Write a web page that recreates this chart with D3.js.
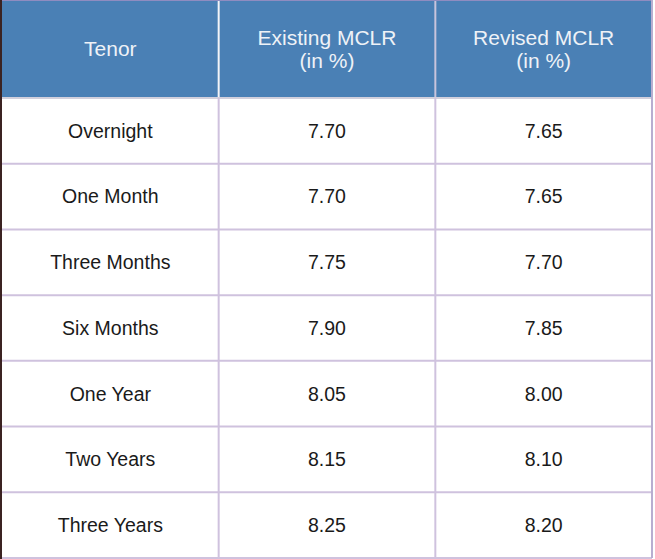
<!DOCTYPE html>
<html>
<head>
<meta charset="utf-8">
<script src="https://cdn.jsdelivr.net/npm/d3@7/dist/d3.min.js"></script>
<style>
  html, body { margin: 0; padding: 0; background: #fff; }
  svg { display: block; }
</style>
</head>
<body>
<svg id="chart" width="655" height="559"></svg>
<script>
const columns = ["tenor", "existing", "revised"];
const headers = [["Tenor"], ["Existing MCLR", "(in %)"], ["Revised MCLR", "(in %)"]];
const tenors = ["Overnight", "One Month", "Three Months", "Six Months", "One Year", "Two Years", "Three Years"];
const existing = [7.70, 7.70, 7.75, 7.90, 8.05, 8.15, 8.25];
const revised = [7.65, 7.65, 7.70, 7.85, 8.00, 8.10, 8.20];

const svg = d3.select("#chart");
const headTop = 0, headBottom = 98, tableBottom = 558;
const left = 2, right = 652;
const font = "'Liberation Sans', Arial, sans-serif";

const x = d3.scaleBand().domain(columns).range([left, right]);
const y = d3.scaleBand().domain(tenors).range([headBottom, tableBottom]);

const rows = tenors.map((t, i) => ({
  tenor: t,
  existing: existing[i].toFixed(2),
  revised: revised[i].toFixed(2)
}));

// left dark strip
svg.append("rect").attr("x", 0).attr("y", 0).attr("width", 2).attr("height", 559).attr("fill", "#3b2322");

// header
svg.append("rect")
  .attr("x", left).attr("y", headTop)
  .attr("width", right - left).attr("height", headBottom - headTop)
  .attr("fill", "#4a80b5");

svg.append("line")
  .attr("x1", left).attr("x2", right).attr("y1", 0.5).attr("y2", 0.5)
  .attr("stroke", "#8f8cc0").attr("stroke-width", 1);

const head = svg.append("g").selectAll("text")
  .data(columns)
  .join("text")
  .attr("x", d => x(d) + x.bandwidth() / 2)
  .attr("text-anchor", "middle")
  .attr("font-family", font)
  .attr("font-size", 21)
  .attr("fill", "#eef2f7");

head.each(function(d, i) {
  const lines = headers[i];
  const t = d3.select(this);
  const mid = (headTop + headBottom) / 2;
  lines.forEach((s, j) => {
    t.append("tspan")
      .attr("x", x(d) + x.bandwidth() / 2)
      .attr("y", mid + (j - (lines.length - 1) / 2) * 23)
      .attr("dy", "0.35em")
      .text(s);
  });
});

// header separators
svg.append("line")
  .attr("x1", x("existing")).attr("x2", x("existing"))
  .attr("y1", 1).attr("y2", headBottom)
  .attr("stroke", "#f4f4f8").attr("stroke-width", 2);
svg.append("line")
  .attr("x1", x("revised")).attr("x2", x("revised"))
  .attr("y1", 1).attr("y2", headBottom)
  .attr("stroke", "#c8c4dc").attr("stroke-width", 2);
svg.append("line")
  .attr("x1", left).attr("x2", right)
  .attr("y1", headBottom).attr("y2", headBottom)
  .attr("stroke", "#d2d0dc").attr("stroke-width", 2);

// grid
const grid = svg.append("g").attr("stroke", "#cfc2de").attr("stroke-width", 2);
grid.selectAll("line.h")
  .data(tenors)
  .join("line")
  .attr("class", "h")
  .attr("x1", left).attr("x2", right)
  .attr("y1", d => y(d) + y.bandwidth())
  .attr("y2", d => y(d) + y.bandwidth());
grid.selectAll("line.v")
  .data(["existing", "revised"])
  .join("line")
  .attr("class", "v")
  .attr("x1", d => x(d)).attr("x2", d => x(d))
  .attr("y1", headBottom).attr("y2", tableBottom);
grid.append("line")
  .attr("x1", right).attr("x2", right)
  .attr("y1", 0).attr("y2", tableBottom)
  .attr("stroke", "#b8aed0");

// body text
const body = svg.append("g")
  .attr("font-family", font)
  .attr("font-size", 19.5)
  .attr("fill", "#1a1a1a")
  .attr("text-anchor", "middle");

rows.forEach(r => {
  body.selectAll(null)
    .data(columns)
    .join("text")
    .attr("x", c => x(c) + x.bandwidth() / 2)
    .attr("y", y(r.tenor) + y.bandwidth() / 2)
    .attr("dy", "0.35em")
    .text(c => r[c]);
});
</script>
</body>
</html>
